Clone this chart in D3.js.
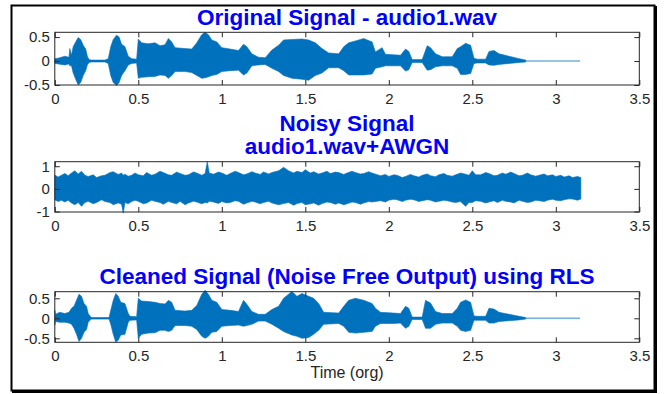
<!DOCTYPE html>
<html>
<head>
<meta charset="utf-8">
<script src="https://cdn.jsdelivr.net/npm/d3@7"></script>
<style>
  body { margin: 0; background: #fff; }
  text { font-family: Arial, "Liberation Sans", Helvetica, sans-serif; }
</style>
</head>
<body>
<script>
// tijd-as waarden (seconden)
var timeTicks = [0, 0.5, 1, 1.5, 2, 2.5, 3, 3.5];
var signalEnd = 3.145; // einde van het geluidsbestand

var originalEnvelope = [
  [0, 0.05, -0.05], [0.02, 0.06, -0.06], [0.06, 0.1, -0.08], [0.085, 0.08, -0.06], [0.09, 0.26, -0.1],
  [0.1, 0.12, -0.1], [0.11, 0.3, -0.25], [0.125, 0.4, -0.38], [0.14, 0.49, -0.5], [0.155, 0.45, -0.45],
  [0.17, 0.33, -0.3], [0.185, 0.25, -0.2], [0.195, 0.1, -0.08], [0.205, 0.03, -0.03], [0.22, 0.02, -0.02],
  [0.3, 0.02, -0.02], [0.32, 0.05, -0.05], [0.335, 0.3, -0.3], [0.35, 0.45, -0.45], [0.37, 0.54, -0.51],
  [0.385, 0.5, -0.45], [0.4, 0.35, -0.3], [0.42, 0.3, -0.2], [0.44, 0.1, -0.08], [0.46, 0.05, -0.05],
  [0.49, 0.04, -0.04], [0.5, 0.46, -0.36], [0.52, 0.38, -0.34], [0.56, 0.36, -0.33], [0.6, 0.38, -0.32],
  [0.63, 0.32, -0.29], [0.66, 0.34, -0.3], [0.68, 0.47, -0.36], [0.7, 0.4, -0.3], [0.72, 0.28, -0.22],
  [0.78, 0.26, -0.22], [0.82, 0.25, -0.24], [0.85, 0.38, -0.3], [0.88, 0.55, -0.36], [0.9, 0.6, -0.35],
  [0.92, 0.55, -0.33], [0.94, 0.44, -0.3], [0.97, 0.4, -0.28], [1.0, 0.28, -0.22], [1.05, 0.25, -0.2],
  [1.1, 0.22, -0.19], [1.13, 0.35, -0.29], [1.15, 0.3, -0.25], [1.18, 0.15, -0.1], [1.22, 0.08, -0.08],
  [1.26, 0.07, -0.07], [1.3, 0.23, -0.15], [1.34, 0.33, -0.22], [1.37, 0.44, -0.3], [1.42, 0.45, -0.36],
  [1.48, 0.46, -0.38], [1.52, 0.44, -0.4], [1.56, 0.38, -0.3], [1.6, 0.26, -0.25], [1.64, 0.17, -0.14],
  [1.7, 0.15, -0.14], [1.73, 0.3, -0.2], [1.76, 0.38, -0.29], [1.8, 0.42, -0.29], [1.85, 0.47, -0.29],
  [1.9, 0.4, -0.27], [1.92, 0.19, -0.15], [1.96, 0.28, -0.12], [1.98, 0.14, -0.1], [2.03, 0.13, -0.1],
  [2.07, 0.12, -0.1], [2.1, 0.25, -0.21], [2.12, 0.2, -0.18], [2.14, 0.03, -0.03], [2.2, 0.03, -0.03],
  [2.23, 0.32, -0.19], [2.25, 0.28, -0.18], [2.28, 0.15, -0.12], [2.32, 0.09, -0.1], [2.38, 0.09, -0.1],
  [2.41, 0.26, -0.15], [2.43, 0.3, -0.28], [2.46, 0.37, -0.28], [2.49, 0.33, -0.26], [2.51, 0.06, -0.05],
  [2.53, 0.04, -0.04], [2.58, 0.04, -0.04], [2.6, 0.2, -0.08], [2.63, 0.22, -0.09], [2.66, 0.15, -0.07],
  [2.72, 0.1, -0.05], [2.78, 0.05, -0.03], [2.82, 0.02, -0.02]
];

var noisyEnvelope = [
  [0, 0.61, -0.48], [0.02, 0.52, -0.56], [0.04, 0.6, -0.5], [0.06, 0.68, -0.58], [0.08, 0.58, -0.5],
  [0.1, 0.7, -0.62], [0.12, 0.8, -0.7], [0.14, 0.66, -0.6], [0.16, 0.78, -0.77], [0.18, 0.6, -0.6],
  [0.2, 0.55, -0.55], [0.23, 0.62, -0.66], [0.25, 0.5, -0.6], [0.28, 0.58, -0.48], [0.3, 0.6, -0.56],
  [0.33, 0.72, -0.6], [0.35, 0.76, -0.7], [0.38, 0.64, -0.62], [0.4, 0.7, -0.68], [0.41, 0.6, -1.07],
  [0.42, 0.65, -0.6], [0.44, 0.56, -0.66], [0.46, 0.6, -0.56], [0.48, 0.7, -0.5], [0.5, 0.62, -0.55],
  [0.53, 0.58, -0.66], [0.55, 0.72, -0.62], [0.58, 0.6, -0.5], [0.6, 0.65, -0.55], [0.63, 0.78, -0.6],
  [0.65, 0.72, -0.68], [0.68, 0.62, -0.55], [0.7, 0.6, -0.6], [0.73, 0.74, -0.66], [0.75, 0.68, -0.55],
  [0.78, 0.6, -0.7], [0.8, 0.62, -0.62], [0.83, 0.75, -0.55], [0.85, 0.7, -0.58], [0.88, 0.6, -0.66],
  [0.9, 0.68, -0.6], [0.913, 1.2, -0.62], [0.925, 0.7, -0.55], [0.95, 0.65, -0.58], [0.98, 0.74, -0.64],
  [1.0, 0.7, -0.56], [1.03, 0.6, -0.62], [1.05, 0.68, -0.6], [1.08, 0.78, -0.52], [1.1, 0.72, -0.55],
  [1.13, 0.62, -0.68], [1.15, 0.66, -0.62], [1.18, 0.76, -0.55], [1.2, 0.7, -0.58], [1.23, 0.64, -0.66],
  [1.25, 0.75, -0.6], [1.28, 0.66, -0.55], [1.3, 0.72, -0.62], [1.34, 0.8, -0.7], [1.37, 0.95, -0.65],
  [1.4, 0.8, -0.6], [1.43, 0.7, -0.72], [1.45, 0.78, -0.65], [1.48, 0.72, -0.6], [1.5, 0.85, -0.7],
  [1.53, 0.7, -0.66], [1.55, 0.76, -0.62], [1.58, 0.66, -0.72], [1.6, 0.7, -0.65], [1.63, 0.78, -0.58],
  [1.65, 0.68, -0.6], [1.68, 0.74, -0.68], [1.7, 0.72, -0.62], [1.73, 0.64, -0.7], [1.75, 0.7, -0.66],
  [1.78, 0.78, -0.58], [1.8, 0.72, -0.6], [1.83, 0.66, -0.68], [1.85, 0.68, -0.62], [1.88, 0.76, -0.56],
  [1.9, 0.7, -0.58], [1.95, 0.58, -0.52], [1.98, 0.64, -0.58], [2.0, 0.55, -0.5], [2.03, 0.62, -0.46],
  [2.05, 0.6, -0.48], [2.08, 0.5, -0.56], [2.1, 0.55, -0.5], [2.13, 0.64, -0.46], [2.15, 0.58, -0.48],
  [2.18, 0.52, -0.56], [2.2, 0.6, -0.52], [2.23, 0.66, -0.48], [2.25, 0.58, -0.5], [2.28, 0.54, -0.58],
  [2.3, 0.62, -0.55], [2.33, 0.68, -0.5], [2.35, 0.6, -0.52], [2.38, 0.56, -0.58], [2.4, 0.62, -0.6],
  [2.43, 0.7, -0.56], [2.46, 0.65, -0.77], [2.48, 0.6, -0.6], [2.5, 0.8, -0.6], [2.52, 0.62, -0.52],
  [2.55, 0.62, -0.55], [2.58, 0.72, -0.62], [2.6, 0.68, -0.58], [2.63, 0.58, -0.52], [2.65, 0.6, -0.6],
  [2.68, 0.7, -0.5], [2.7, 0.65, -0.55], [2.73, 0.74, -0.58], [2.75, 0.68, -0.62], [2.78, 0.58, -0.5],
  [2.8, 0.6, -0.55], [2.83, 0.7, -0.6], [2.85, 0.62, -0.58], [2.88, 0.56, -0.5], [2.9, 0.6, -0.52],
  [2.93, 0.66, -0.56], [2.95, 0.58, -0.5], [2.98, 0.62, -0.46], [3.0, 0.55, -0.5], [3.03, 0.6, -0.52],
  [3.05, 0.52, -0.48], [3.08, 0.58, -0.44], [3.1, 0.5, -0.45], [3.13, 0.55, -0.5], [3.15, 0.5, -0.45]
];

var cleanedEnvelope = [
  [0, 0.2, -0.17], [0.004, 0.1, -0.08], [0.03, 0.15, -0.1], [0.06, 0.12, -0.1], [0.085, 0.15, -0.12],
  [0.1, 0.25, -0.15], [0.115, 0.3, -0.25], [0.13, 0.45, -0.4], [0.145, 0.6, -0.58], [0.16, 0.55, -0.5],
  [0.175, 0.37, -0.35], [0.19, 0.3, -0.28], [0.2, 0.12, -0.1], [0.215, 0.03, -0.03], [0.22, 0.02, -0.02],
  [0.325, 0.02, -0.02], [0.335, 0.2, -0.15], [0.35, 0.45, -0.4], [0.365, 0.62, -0.6], [0.38, 0.55, -0.55],
  [0.395, 0.4, -0.42], [0.42, 0.37, -0.4], [0.44, 0.12, -0.1], [0.45, 0.05, -0.05], [0.49, 0.04, -0.04],
  [0.5, 0.5, -0.5], [0.52, 0.43, -0.4], [0.56, 0.42, -0.37], [0.6, 0.4, -0.36], [0.63, 0.37, -0.3],
  [0.66, 0.36, -0.3], [0.68, 0.45, -0.33], [0.7, 0.4, -0.3], [0.72, 0.2, -0.18], [0.78, 0.18, -0.18],
  [0.82, 0.2, -0.2], [0.85, 0.32, -0.28], [0.88, 0.6, -0.45], [0.9, 0.7, -0.5], [0.92, 0.6, -0.45],
  [0.94, 0.45, -0.35], [0.97, 0.4, -0.33], [1.0, 0.22, -0.2], [1.05, 0.2, -0.18], [1.1, 0.17, -0.17],
  [1.13, 0.45, -0.2], [1.15, 0.35, -0.18], [1.18, 0.17, -0.15], [1.22, 0.1, -0.07], [1.26, 0.1, -0.07],
  [1.3, 0.22, -0.15], [1.34, 0.3, -0.25], [1.37, 0.5, -0.33], [1.42, 0.67, -0.42], [1.45, 0.55, -0.45],
  [1.48, 0.62, -0.5], [1.52, 0.55, -0.48], [1.55, 0.5, -0.4], [1.58, 0.37, -0.3], [1.61, 0.15, -0.15],
  [1.7, 0.13, -0.13], [1.73, 0.3, -0.2], [1.76, 0.45, -0.35], [1.8, 0.5, -0.37], [1.85, 0.45, -0.35],
  [1.9, 0.37, -0.33], [1.92, 0.25, -0.2], [1.95, 0.15, -0.13], [2.03, 0.13, -0.13], [2.07, 0.12, -0.12],
  [2.1, 0.3, -0.25], [2.12, 0.25, -0.2], [2.14, 0.03, -0.03], [2.2, 0.03, -0.03], [2.22, 0.45, -0.25],
  [2.25, 0.38, -0.25], [2.28, 0.17, -0.15], [2.32, 0.12, -0.12], [2.38, 0.12, -0.12], [2.41, 0.25, -0.2],
  [2.43, 0.4, -0.3], [2.46, 0.46, -0.33], [2.49, 0.4, -0.3], [2.51, 0.06, -0.05], [2.53, 0.05, -0.05],
  [2.58, 0.05, -0.05], [2.6, 0.25, -0.12], [2.63, 0.23, -0.12], [2.66, 0.15, -0.08], [2.72, 0.1, -0.06],
  [2.78, 0.05, -0.04], [2.82, 0.02, -0.02]
];

var originalYTicks = [-0.5, 0, 0.5];
var noisyYTicks = [-1, 0, 1];
var cleanedYTicks = [-0.5, 0, 0.5];

var width = 667;
var height = 394;
var lineColor = '#0072BD';
var axisColor = '#262626';

var svg = d3.select('body').append('svg')
    .attr('width', width)
    .attr('height', height);

svg.append('rect')
    .attr('width', width).attr('height', height)
    .attr('fill', '#fff');

// figuur-rand
svg.append('rect')
    .attr('x', 11.5).attr('y', 5.5)
    .attr('width', 643).attr('height', 385)
    .attr('fill', 'none')
    .attr('stroke', '#000')
    .attr('stroke-width', 2);
svg.append('path')
    .attr('d', 'M656,6V392H12')
    .attr('fill', 'none')
    .attr('stroke', '#000')
    .attr('stroke-width', 2);

var xScale = d3.scaleLinear()
    .domain([0, 3.5])
    .range([54.8, 639.3]);

var fmt = function (d) { return String(d); };

var panels = [
    { data: originalEnvelope, yDomain: [-0.5, 0.6], yTicks: originalYTicks, top: 32.3, bottom: 85,
      titles: ['Original Signal - audio1.wav'], titleY: [25], tail: true },
    { data: noisyEnvelope, yDomain: [-1.02, 1.2], yTicks: noisyYTicks, top: 161.7, bottom: 212,
      titles: ['Noisy Signal', 'audio1.wav+AWGN'], titleY: [130.5, 153.5], tail: false },
    { data: cleanedEnvelope, yDomain: [-0.6, 0.665], yTicks: cleanedYTicks, top: 291.7, bottom: 342.3,
      titles: ['Cleaned Signal (Noise Free Output) using RLS'], titleY: [284], tail: true }
];

panels.forEach(function (p) {
    var yScale = d3.scaleLinear()
        .domain(p.yDomain)
        .range([p.bottom, p.top]);

    var g = svg.append('g');

    // de golfvorm als envelope
    var area = d3.area()
        .x(function (d) { return xScale(d[0]); })
        .y0(function (d) { return yScale(d[2]); })
        .y1(function (d) { return yScale(d[1]); });

    g.append('path')
        .datum(p.data)
        .attr('d', area)
        .attr('fill', lineColor)
        .attr('stroke', lineColor)
        .attr('stroke-width', 0.6);

    if (p.tail) {
        var last = p.data[p.data.length - 1][0];
        g.append('line')
            .attr('x1', xScale(last)).attr('x2', xScale(signalEnd))
            .attr('y1', yScale(0)).attr('y2', yScale(0))
            .attr('stroke', lineColor)
            .attr('stroke-opacity', 0.55)
            .attr('stroke-width', 1.5);
    }

    // assen (ticks naar binnen, zoals MATLAB)
    var xb = g.append('g')
        .attr('transform', 'translate(0,' + p.bottom + ')')
        .call(d3.axisBottom(xScale).tickValues(timeTicks).tickSize(-5).tickPadding(8).tickFormat(fmt));
    var xt = g.append('g')
        .attr('transform', 'translate(0,' + p.top + ')')
        .call(d3.axisTop(xScale).tickValues(timeTicks).tickSize(-5).tickFormat(''));
    var yl = g.append('g')
        .attr('transform', 'translate(' + xScale.range()[0] + ',0)')
        .call(d3.axisLeft(yScale).tickValues(p.yTicks).tickSize(-5).tickPadding(5).tickFormat(fmt));
    var yr = g.append('g')
        .attr('transform', 'translate(' + xScale.range()[1] + ',0)')
        .call(d3.axisRight(yScale).tickValues(p.yTicks).tickSize(-5).tickFormat(''));

    [xb, xt, yl, yr].forEach(function (a) {
        a.select('.domain').remove();
        a.selectAll('line').attr('stroke', axisColor);
        a.selectAll('text')
            .attr('fill', axisColor)
            .style('font-size', '15px')
            .style('font-family', 'Arial, "Liberation Sans", Helvetica, sans-serif');
    });

    g.append('rect')
        .attr('x', xScale.range()[0]).attr('y', p.top)
        .attr('width', xScale.range()[1] - xScale.range()[0])
        .attr('height', p.bottom - p.top)
        .attr('fill', 'none')
        .attr('stroke', axisColor)
        .attr('stroke-width', 1);

    p.titles.forEach(function (t, j) {
        svg.append('text')
            .attr('x', (xScale.range()[0] + xScale.range()[1]) / 2)
            .attr('y', p.titleY[j])
            .attr('text-anchor', 'middle')
            .attr('fill', '#0000ff')
            .style('font-weight', 'bold')
            .style('font-size', '22.5px')
            .text(t);
    });
});

svg.append('text')
    .attr('x', (xScale.range()[0] + xScale.range()[1]) / 2)
    .attr('y', 378)
    .attr('text-anchor', 'middle')
    .attr('fill', axisColor)
    .style('font-size', '16px')
    .text('Time (org)');
</script>
</body>
</html>
